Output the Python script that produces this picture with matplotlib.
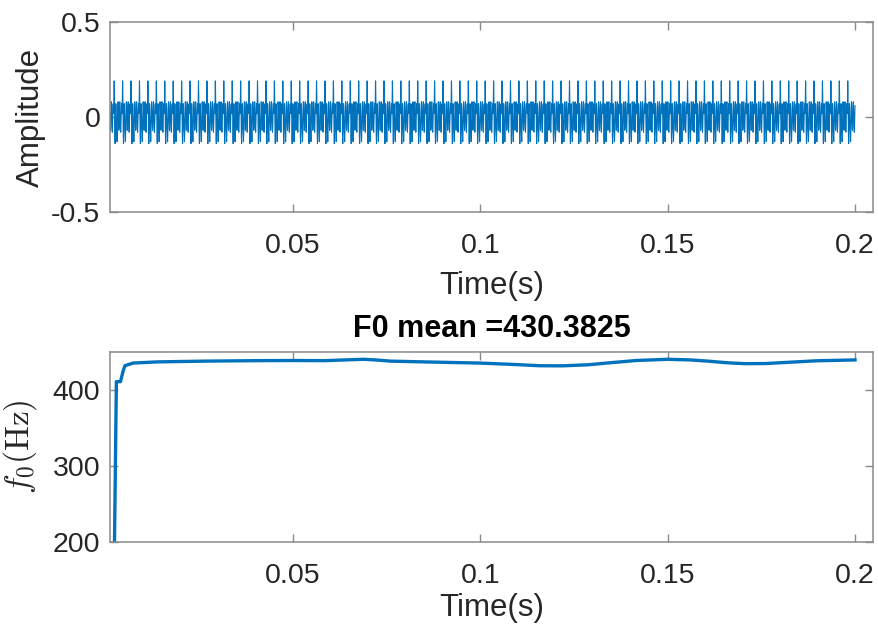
import numpy as np
import matplotlib
matplotlib.use('Agg')
import matplotlib.pyplot as plt

plt.rcParams['font.family'] = ['Liberation Sans', 'DejaVu Sans']
plt.rcParams['mathtext.fontset'] = 'cm'

# 波形 (16 kHz, 0.2 s) - one period, repeated
fs = 16000
duration = 0.2
cycle = [0.19, 0.12, 0.00, -0.10, -0.14, -0.08, 0.02, 0.07, 0.05, -0.01,
         -0.06, -0.09, -0.13, -0.09, -0.02, 0.06, 0.08, 0.06, 0.02, -0.04,
         -0.07, -0.05, 0.01, 0.06, 0.08, 0.04, -0.02, -0.06, -0.08, -0.04,
         0.02, 0.06, 0.07, 0.03, 0.02, 0.09]

# F0 track
f0_time = [0.0024, 0.0029, 0.0040, 0.0047, 0.0052, 0.0074, 0.0139, 0.0267,
           0.0400, 0.0500, 0.0585, 0.0640, 0.0688, 0.0720, 0.0760, 0.0830,
           0.0905, 0.1000, 0.1080, 0.1160, 0.1220, 0.1288, 0.1350, 0.1416,
           0.1500, 0.1560, 0.1607, 0.1660, 0.1708, 0.1760, 0.1820, 0.1900,
           0.1950, 0.2000]
f0_vals = [200, 411, 411, 425, 432, 435.5, 437.0, 438.0,
           438.6, 438.8, 438.6, 439.6, 440.4, 439.6, 438.0, 437.2,
           436.4, 435.4, 433.8, 431.9, 431.8, 433.2, 436.0, 438.8,
           440.4, 439.6, 438.0, 435.8, 434.6, 434.8, 436.4, 438.5,
           439.0, 439.6]
f0_mean = 430.3825

n = int(round(fs * duration))
wave = np.tile(cycle, n // len(cycle) + 1)[:n]
t = np.arange(1, n + 1) / fs

line_c = '#0072BD'
axis_c = '#8a8a8a'
text_c = '#262626'

fig = plt.figure(figsize=(8.79, 6.34), dpi=100)
ax1 = fig.add_axes([110/879, (634-212)/634, 763/879, 190/634])
ax2 = fig.add_axes([110/879, (634-542)/634, 763/879, 190/634])

ax1.plot(t, wave, color=line_c, lw=0.8)
ax1.set_ylim(-0.5, 0.5)
ax1.set_yticks([-0.5, 0, 0.5])
ax1.set_yticklabels(['-0.5', '0', '0.5'])
ax1.set_ylabel('Amplitude', fontsize=22.5, color=text_c, labelpad=4)

ax2.plot(f0_time, f0_vals, color=line_c, lw=2.4)
ax2.set_ylim(200, 450)
ax2.set_yticks([200, 300, 400])
ax2.set_ylabel(r'$f_0(\mathrm{Hz})$', fontsize=24, color=text_c, labelpad=10)
ax2.set_title(f'F0 mean ={f0_mean}', fontsize=22, fontweight='bold', color='black', pad=11)

for ax, lp in ((ax1, 9), (ax2, 3)):
    ax.set_xlim(0.0012, 0.2048)
    ax.set_xticks([0.05, 0.1, 0.15, 0.2])
    ax.set_xticklabels(['0.05', '0.1', '0.15', '0.2'])
    ax.set_xlabel('Time(s)', fontsize=22.5, color=text_c, labelpad=lp)
    ax.tick_params(direction='in', top=True, right=True, length=5.5, width=1,
                   color=axis_c, labelsize=20.5, labelcolor=text_c)
    ax.tick_params(axis='x', pad=15)
    ax.tick_params(axis='y', pad=7)
    for s in ax.spines.values():
        s.set_color(axis_c)
        s.set_linewidth(1.1)

fig.savefig('out.png', dpi=100)
